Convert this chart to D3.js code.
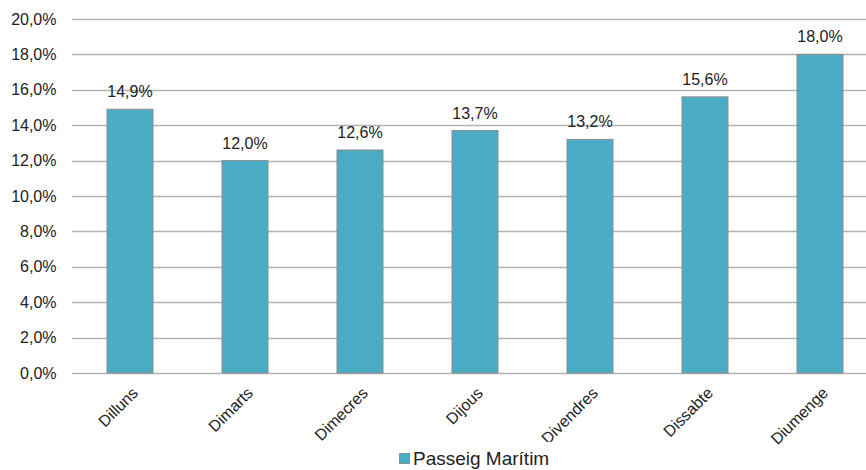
<!DOCTYPE html>
<html><head><meta charset="utf-8">
<script src="https://cdn.jsdelivr.net/npm/d3@7"></script>
<style>body{margin:0;background:#fff;} svg{display:block;font-family:"Liberation Sans",Arial,sans-serif;}</style>
</head><body>
<svg id="c" width="866" height="470"></svg>
<script>
const categories = ["Dilluns","Dimarts","Dimecres","Dijous","Divendres","Dissabte","Diumenge"];
const values = [14.9,12.0,12.6,13.7,13.2,15.6,18.0];
const yTicks = [0,2,4,6,8,10,12,14,16,18,20];
const seriesName = "Passeig Marítim";

(function(){
const svg = d3.select("#c");
const pLeft = 72.5, pRight = 877.5, pTop = 19, pBottom = 373;
const x = d3.scaleBand().domain(categories).range([pLeft, pRight]).paddingInner(0.6).paddingOuter(0.3);
const y = d3.scaleLinear().domain([0,20]).range([pBottom, pTop]);
const fmt = v => d3.format(".1f")(v).replace(".", ",") + "%";
const ff = '"Liberation Sans",Arial,sans-serif';

// gridlines
svg.append("g").selectAll("line").data(yTicks).join("line")
  .attr("x1", pLeft - 0.5).attr("x2", 866)
  .attr("y1", d => Math.round(y(d)) + 0.5).attr("y2", d => Math.round(y(d)) + 0.5)
  .attr("stroke", "#b3b3b3").attr("stroke-width", 1.3);

// y axis labels
const yAxis = d3.axisLeft(y).tickValues(yTicks).tickFormat(fmt).tickSize(0).tickPadding(0);
const ga = svg.append("g").attr("transform", `translate(${pLeft - 16},0)`).call(yAxis);
ga.select(".domain").remove();
ga.selectAll("text").attr("font-size", 16).attr("fill", "#222").attr("font-family", ff);

// bars
svg.append("g").selectAll("rect").data(values).join("rect")
  .attr("x", (d,i) => x(categories[i]))
  .attr("width", x.bandwidth())
  .attr("y", d => y(d))
  .attr("height", d => pBottom - y(d))
  .attr("fill", "#4bacc6").attr("stroke", "#8c8c8c").attr("stroke-width", 1);

// value labels
svg.append("g").selectAll("text").data(values).join("text")
  .attr("x", (d,i) => x(categories[i]) + x.bandwidth()/2)
  .attr("y", d => y(d) - 12)
  .attr("text-anchor", "middle").attr("font-size", 16).attr("fill", "#222").attr("font-family", ff)
  .text(d => fmt(d));

// x labels
const xAxis = d3.axisBottom(x).tickSize(0).tickPadding(0);
const gx = svg.append("g").attr("transform", `translate(0,${pBottom})`).call(xAxis);
gx.select(".domain").remove();
gx.selectAll("text")
  .attr("font-size", 16).attr("fill", "#222").attr("font-family", ff)
  .attr("text-anchor", "end").attr("dy", null).attr("y", 0)
  .attr("transform", "translate(9,21) rotate(-45)");

// legend
const lg = svg.append("g");
lg.append("rect").attr("x", 392).attr("y", 442).attr("width", 170).attr("height", 28).attr("fill", "#fff");
lg.append("rect").attr("x", 399.5).attr("y", 453.5).attr("width", 10).attr("height", 10)
  .attr("fill", "#4bacc6").attr("stroke", "#8c8c8c").attr("stroke-width", 1);
lg.append("text").attr("x", 413).attr("y", 465).attr("font-size", 19).attr("fill", "#222").attr("font-family", ff).text(seriesName);
})();
</script>
</body></html>
